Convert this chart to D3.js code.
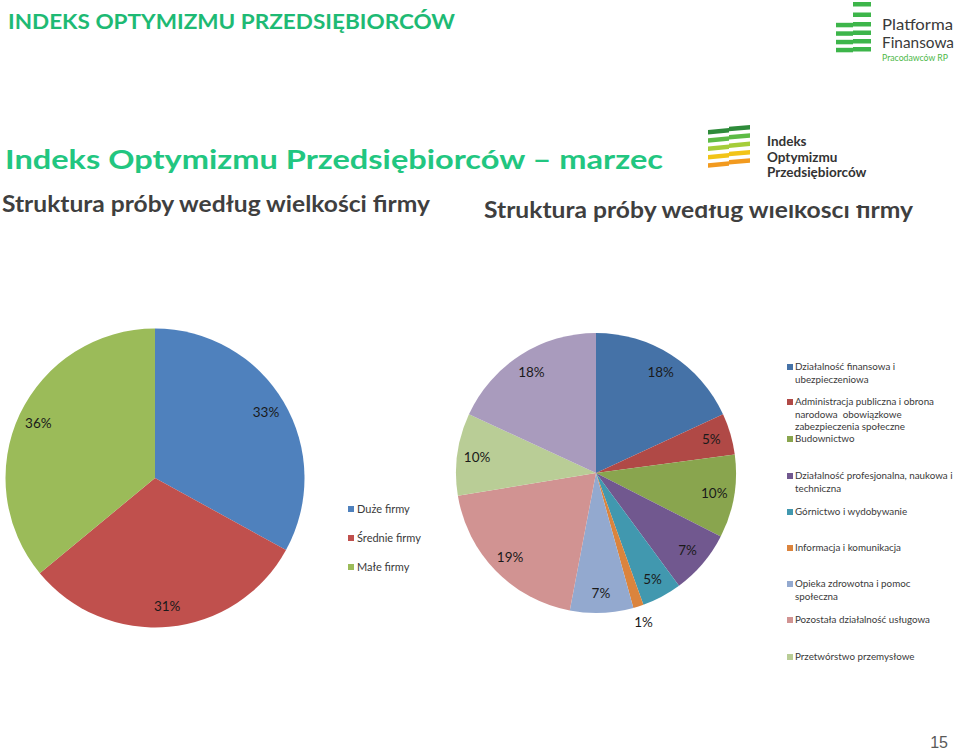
<!DOCTYPE html>
<html>
<head>
<meta charset="utf-8">
<script src="https://cdn.jsdelivr.net/npm/d3@7/dist/d3.min.js"></script>
<style>
  html, body { margin: 0; padding: 0; background: #ffffff; }
  svg { display: block; }
</style>
</head>
<body>
<svg id="chart" width="959" height="751"></svg>
<script>
// ---------- DATA ----------
const sizeCategories = ["Duże firmy", "Średnie firmy", "Małe firmy"];
const sizeValues = [33, 31, 36];

const sectorCategories = [
  "Działalność finansowa i ubezpieczeniowa",
  "Administracja publiczna i obrona narodowa  obowiązkowe zabezpieczenia społeczne",
  "Budownictwo",
  "Działalność profesjonalna, naukowa i techniczna",
  "Górnictwo i wydobywanie",
  "Informacja i komunikacja",
  "Opieka zdrowotna i pomoc społeczna",
  "Pozostała działalność usługowa",
  "Przetwórstwo przemysłowe",
  "Handel"
];
const sectorValues = [18.1, 4.8, 9.6, 7.4, 4.6, 1.2, 7.3, 19.4, 9.5, 18.1];
// legend lines as they wrap in the original (10th category is not shown in the legend)
const sectorLegendLines = [
  ["Działalność finansowa i", "ubezpieczeniowa"],
  ["Administracja publiczna i obrona", "narodowa  obowiązkowe", "zabezpieczenia społeczne"],
  ["Budownictwo"],
  ["Działalność profesjonalna, naukowa i", "techniczna"],
  ["Górnictwo i wydobywanie"],
  ["Informacja i komunikacja"],
  ["Opieka zdrowotna i pomoc", "społeczna"],
  ["Pozostała działalność usługowa"],
  ["Przetwórstwo przemysłowe"]
];

const titleTop = "INDEKS OPTYMIZMU PRZEDSIĘBIORCÓW";
const titleMain = "Indeks Optymizmu Przedsiębiorców – marzec";
const subtitle = "Struktura próby według wielkości firmy";
const pageNumber = "15";

// ---------- STYLE ----------
const sizeColors = ["#4F81BD", "#C0504D", "#9BBB59"];
const sectorColors = ["#4572A7", "#B04946", "#89A54E", "#71588F", "#4198AF",
                      "#DB843D", "#93A9CF", "#D19392", "#B9CD96", "#A99BBD"];
const FONT = "Lato, 'Open Sans', sans-serif";
const textColor = "#3a3a3a";

const svg = d3.select("#chart");

// ---------- HEADERS ----------
svg.append("text").attr("x", 8).attr("y", 29)
  .attr("font-family", FONT).attr("font-weight", 700).attr("font-size", 21)
  .attr("fill", "#1EBA74").attr("textLength", 447).attr("lengthAdjust", "spacingAndGlyphs")
  .text(titleTop);

svg.append("text").attr("x", 5).attr("y", 169)
  .attr("font-family", FONT).attr("font-weight", 700).attr("font-size", 27)
  .attr("fill", "#22C680").attr("textLength", 658).attr("lengthAdjust", "spacingAndGlyphs")
  .text(titleMain);

svg.append("text").attr("x", 2).attr("y", 212)
  .attr("font-family", FONT).attr("font-weight", 700).attr("font-size", 23)
  .attr("fill", "#3F3F3F").attr("textLength", 428).attr("lengthAdjust", "spacingAndGlyphs")
  .text(subtitle);

// second (partly covered) copy of the subtitle
const defs = svg.append("defs");
const cp = defs.append("clipPath").attr("id", "subclip");
cp.append("rect").attr("x", 470).attr("y", 190).attr("width", 186).attr("height", 40);
cp.append("rect").attr("x", 656).attr("y", 205).attr("width", 300).attr("height", 30);
svg.append("text").attr("x", 484).attr("y", 218)
  .attr("clip-path", "url(#subclip)")
  .attr("font-family", FONT).attr("font-weight", 700).attr("font-size", 23)
  .attr("fill", "#3F3F3F").attr("textLength", 429).attr("lengthAdjust", "spacingAndGlyphs")
  .text(subtitle);

// ---------- LOGO: Platforma Finansowa ----------
const logo1 = svg.append("g");
const pfGreen = "#3DB54A";
[[853, 2, 18], [853, 12.5, 18]].forEach(r =>
  logo1.append("rect").attr("x", r[0]).attr("y", r[1]).attr("width", r[2]).attr("height", 4.5).attr("fill", pfGreen));
[22, 30.5, 39, 47].forEach(y => {
  logo1.append("rect").attr("x", 836).attr("y", y + 0.8).attr("width", 17).attr("height", 4.5).attr("fill", pfGreen);
  logo1.append("rect").attr("x", 853).attr("y", y).attr("width", 18).attr("height", 4.5).attr("fill", pfGreen);
});
logo1.append("text").attr("x", 882).attr("y", 30)
  .attr("font-family", FONT).attr("font-size", 16).attr("fill", "#3a3a3a")
  .attr("textLength", 71).attr("lengthAdjust", "spacingAndGlyphs").text("Platforma");
logo1.append("text").attr("x", 882).attr("y", 48)
  .attr("font-family", FONT).attr("font-size", 16).attr("fill", "#3a3a3a")
  .attr("textLength", 72).attr("lengthAdjust", "spacingAndGlyphs").text("Finansowa");
logo1.append("text").attr("x", 882).attr("y", 61)
  .attr("font-family", FONT).attr("font-size", 8.5).attr("fill", "#4DB848")
  .attr("textLength", 66).attr("lengthAdjust", "spacingAndGlyphs").text("Pracodawców RP");

// ---------- LOGO: Indeks Optymizmu Przedsiębiorców ----------
const logo2 = svg.append("g");
const stripeColors = ["#2E8B3A", "#5DBB46", "#A5CD39", "#F2C418", "#F29A1F"];
stripeColors.forEach((c, i) => {
  const y = 125 + i * 8.3;
  logo2.append("polygon")
    .attr("points", `708,${y + 5} 729,${y + 3} 729,${y + 7.5} 708,${y + 9.5}`)
    .attr("fill", c);
  logo2.append("polygon")
    .attr("points", `729,${y + 1.8} 750,${y} 750,${y + 4.5} 729,${y + 6.3}`)
    .attr("fill", c);
});
[["Indeks", 146], ["Optymizmu", 161.5], ["Przedsiębiorców", 177]].forEach(d => {
  logo2.append("text").attr("x", 767).attr("y", d[1])
    .attr("font-family", FONT).attr("font-weight", 700).attr("font-size", 13.5)
    .attr("fill", "#333333").text(d[0]);
});

// ---------- PIES ----------
const pie = d3.pie().sort(null).value(d => d);
const fmt = v => Math.round(v) + "%";

function drawPie(cx, cy, R, values, colors, labelR, outsideR) {
  const g = svg.append("g").attr("transform", `translate(${cx},${cy})`);
  const arcs = pie(values);
  const arc = d3.arc().innerRadius(0).outerRadius(R);
  g.selectAll("path").data(arcs).enter().append("path")
    .attr("d", arc).attr("fill", (d, i) => colors[i]);
  const total = d3.sum(values);
  g.selectAll("text.lbl").data(arcs).enter().append("text")
    .attr("class", "lbl")
    .each(function (d) {
      const share = d.value / total;
      const r = share < 0.02 ? outsideR : labelR;
      const a = (d.startAngle + d.endAngle) / 2;
      d3.select(this)
        .attr("x", r * Math.sin(a))
        .attr("y", -r * Math.cos(a));
    })
    .attr("dy", "0.35em")
    .attr("text-anchor", "middle")
    .attr("font-family", FONT).attr("font-size", 13.5).attr("fill", "#1a1a1a")
    .text(d => fmt(d.value / total * 100));
}

drawPie(155, 478, 149.5, sizeValues, sizeColors, 129, 129);

// left legend
const legL = svg.append("g");
sizeCategories.forEach((c, i) => {
  const y = 509 + i * 29;
  legL.append("rect").attr("x", 348).attr("y", y - 3).attr("width", 6).attr("height", 6).attr("fill", sizeColors[i]);
  legL.append("text").attr("x", 357).attr("y", y).attr("dy", "0.35em")
    .attr("font-family", FONT).attr("font-size", 11).attr("fill", textColor).text(c);
});

drawPie(596, 473, 140, sectorValues, sectorColors, 120, 157);

// right legend
const legendTops = [367, 402, 439, 476, 512, 548, 584, 620, 657];
const legR = svg.append("g");
sectorLegendLines.forEach((lines, i) => {
  const y0 = legendTops[i];
  legR.append("rect").attr("x", 787).attr("y", y0 - 3).attr("width", 6).attr("height", 6).attr("fill", sectorColors[i]);
  lines.forEach((ln, j) => {
    legR.append("text").attr("x", 795).attr("y", y0 + j * 12.5).attr("dy", "0.35em")
      .attr("font-family", FONT).attr("font-size", 9.8).attr("fill", textColor)
      .attr("xml:space", "preserve").style("white-space", "pre").text(ln);
  });
});

// ---------- PAGE NUMBER ----------
svg.append("text").attr("x", 948).attr("y", 748).attr("text-anchor", "end")
  .attr("font-family", "'Liberation Sans', Arial, sans-serif").attr("font-size", 16)
  .attr("fill", "#595959").text(pageNumber);
</script>
</body>
</html>
